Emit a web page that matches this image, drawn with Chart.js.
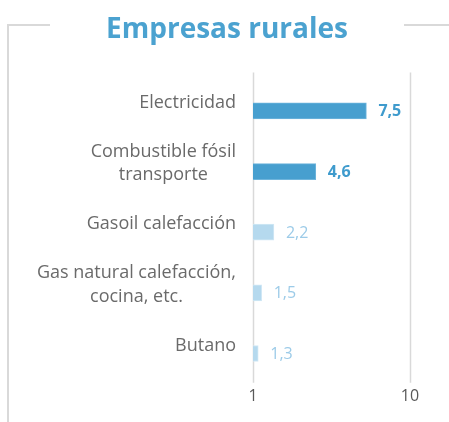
<!DOCTYPE html>
<html>
<head>
<meta charset="utf-8">
<script src="https://cdn.jsdelivr.net/npm/chart.js@4.4.0/dist/chart.umd.min.js"></script>
<style>
  html, body { margin: 0; padding: 0; background: #fff; }
  #wrap { width: 449px; height: 422px; position: relative; }
</style>
</head>
<body>
<div id="wrap"><canvas id="chart"></canvas></div>
<script>
// data
const categories = [
  ['Electricidad'],
  ['Combustible fósil', 'transporte'],
  ['Gasoil calefacción'],
  ['Gas natural calefacción,', 'cocina, etc.'],
  ['Butano']
];
const values = [7.5, 4.6, 2.2, 1.5, 1.3];
const xTicks = [1, 10];
const titleText = 'Empresas rurales';

const darkBlue = '#479fcf';
const lightBlue = '#b5d9ee';
const barColors = values.map(function(v, i) { return i < 2 ? darkBlue : lightBlue; });
const barBorders = values.map(function(v, i) { return i < 2 ? '#6fb5dc' : '#d2e8f5'; });
const labelColors = values.map(function(v, i) { return i < 2 ? '#3f9bcd' : '#9ccbe8'; });

// frame, grid lines, category labels (lines centred on each other) and value labels
const decorPlugin = {
  id: 'decor',
  beforeDatasetsDraw: function(chart) {
    const ctx = chart.ctx;
    const area = chart.chartArea;
    const x = chart.scales.x;
    ctx.save();
    ctx.strokeStyle = '#d9d9d9';
    ctx.lineWidth = 2;
    ctx.beginPath();
    ctx.moveTo(50, 25);
    ctx.lineTo(8, 25);
    ctx.lineTo(8, 422);
    ctx.moveTo(404, 25);
    ctx.lineTo(449, 25);
    ctx.stroke();
    ctx.lineWidth = 1.5;
    xTicks.forEach(function(t) {
      const px = Math.round(x.getPixelForValue(t)) + 0.5;
      ctx.beginPath();
      ctx.moveTo(px, area.top - 8);
      ctx.lineTo(px, area.bottom - 1);
      ctx.stroke();
    });
    ctx.restore();
  },
  afterDatasetsDraw: function(chart) {
    const ctx = chart.ctx;
    const y = chart.scales.y;
    const meta = chart.getDatasetMeta(0);
    ctx.save();
    ctx.textBaseline = 'middle';

    ctx.font = '18px "Open Sans"';
    ctx.fillStyle = '#6a6a6a';
    ctx.textAlign = 'center';
    const rightEdge = chart.chartArea.left - 17;
    categories.forEach(function(lines, i) {
      const w = Math.max.apply(null, lines.map(function(l) { return ctx.measureText(l).width; }));
      const cx = rightEdge - w / 2;
      const cy = y.getPixelForValue(i) - 8;
      const lh = 23.5;
      lines.forEach(function(l, j) {
        ctx.fillText(l, cx, cy + (j - (lines.length - 1) / 2) * lh);
      });
    });

    ctx.textAlign = 'left';
    meta.data.forEach(function(bar, i) {
      ctx.font = (i < 2 ? 'bold ' : '') + '16px "Open Sans"';
      ctx.fillStyle = labelColors[i];
      ctx.fillText(String(values[i]).replace('.', ','), bar.x + 12, bar.y + 1);
    });
    ctx.restore();
  }
};

new Chart(document.getElementById('chart'), {
  type: 'bar',
  data: {
    labels: categories,
    datasets: [{
      data: values,
      backgroundColor: barColors,
      borderColor: barBorders,
      borderWidth: 1,
      barThickness: 16
    }]
  },
  options: {
    indexAxis: 'y',
    responsive: true,
    maintainAspectRatio: false,
    animation: false,
    layout: { padding: { left: 5, right: 0, top: 0, bottom: 12 } },
    plugins: {
      legend: { display: false },
      tooltip: { enabled: false },
      title: {
        display: true,
        text: titleText,
        color: '#4ba2d0',
        font: { family: 'Open Sans', size: 28, weight: 'bold' },
        padding: { top: 13, bottom: 34 }
      }
    },
    scales: {
      x: {
        type: 'linear',
        min: 1,
        max: 10,
        grid: { display: false, drawTicks: false },
        border: { display: false },
        ticks: {
          stepSize: 9,
          color: '#595959',
          padding: 3.5,
          font: { family: 'Open Sans', size: 16 }
        }
      },
      y: {
        grid: { display: false, drawTicks: false },
        border: { display: false },
        afterFit: function(scale) { scale.width = 248; },
        ticks: { display: false }
      },
      // empty right-hand axis, only keeps the gap right of the plot
      yRight: {
        type: 'category',
        position: 'right',
        grid: { display: false, drawTicks: false },
        border: { display: false },
        ticks: { display: false },
        afterFit: function(scale) { scale.width = 39; }
      }
    }
  },
  plugins: [decorPlugin]
});
</script>
</body>
</html>
